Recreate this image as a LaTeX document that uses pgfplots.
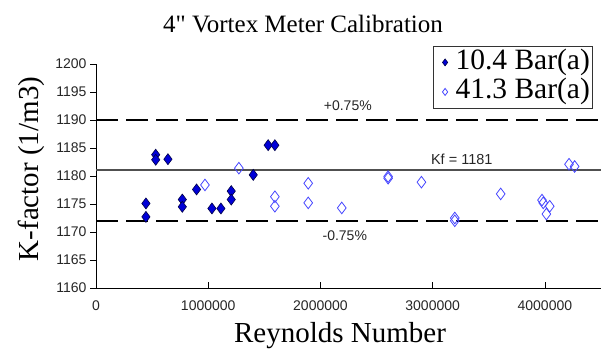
\documentclass[border=0pt]{standalone}
\usepackage{fontspec}
\setmainfont{Liberation Serif}
\newfontfamily\arial{Liberation Sans}
\usepackage{pgfplots}
\pgfplotsset{compat=1.18}
\definecolor{fillblue}{RGB}{0,0,215}
\definecolor{edgeblue}{RGB}{0,0,70}
\definecolor{openblue}{RGB}{70,70,255}
\definecolor{kfgray}{RGB}{80,80,80}
\begin{document}
\begin{tikzpicture}[x=1bp,y=1bp]
\useasboundingbox (0,0) rectangle (602,349);
\begin{axis}[
  at={(96bp,61bp)}, anchor=south west,
  scale only axis, width=505bp, height=224bp,
  xmin=0, xmax=4500000, ymin=1160, ymax=1200,
  axis x line=bottom, axis y line=left,
  axis line style={-, black, line width=1bp},
  xtick={0,1000000,2000000,3000000,4000000},
  ytick={1160,1165,1170,1175,1180,1185,1190,1195,1200},
  scaled x ticks=false,
  xtick align=inside, ytick align=outside,
  major tick length=6bp,
  tick style={black, line width=0.8bp},
  /pgf/number format/assume math mode=true,
  /pgf/number format/fixed,
  /pgf/number format/1000 sep={},
  xticklabel style={yshift=-9bp},
  tick label style={font=\arial\fontsize{14bp}{16bp}\selectfont, text=black!85},
  clip=false,
  legend style={at={(0.985,1.082)}, anchor=north east, draw=black!80, line width=1bp,
    font=\fontsize{29.5bp}{30bp}\selectfont, inner xsep=2bp, inner ysep=1.5bp, row sep=0bp, column sep=0bp,
    nodes={inner xsep=1bp, inner ysep=0bp, text height=21.5bp, text depth=8bp}},
  legend cell align=left,
  legend image code/.code={\path (-9bp,0) (9bp,0); \draw[mark size=3.5bp,#1] plot coordinates {(0,0)};},
]
\addplot[forget plot, black, line width=1.4bp, dash pattern=on 22bp off 8bp] coordinates {(0,1190) (4500000,1190)};
\addplot[forget plot, kfgray, line width=2bp] coordinates {(0,1181) (4500000,1181)};
\addplot[forget plot, black, line width=1.4bp, dash pattern=on 22bp off 8bp] coordinates {(0,1172) (4500000,1172)};
\addplot[only marks, mark=diamond*, mark size=5.5bp, mark options={fill=fillblue, draw=edgeblue, line width=0.6bp}] coordinates {
(445000,1175.1)
(445000,1172.7)
(532000,1183.8)
(532000,1182.9)
(641000,1183.0)
(769000,1175.8)
(769000,1174.5)
(896000,1177.6)
(1033000,1174.2)
(1113000,1174.2)
(1205000,1177.3)
(1205000,1175.8)
(1401000,1180.2)
(1534000,1185.5)
(1594000,1185.5)
};
\addlegendentry{10.4 Bar(a)}
\addplot[only marks, mark=diamond, mark size=5.8bp, mark options={draw=openblue, line width=0.8bp}] coordinates {
(971000,1178.4)
(1273000,1181.4)
(1594000,1176.3)
(1594000,1174.6)
(1891000,1178.7)
(1891000,1175.2)
(2190000,1174.3)
(2603000,1179.9)
(2603000,1179.6)
(2900000,1178.9)
(3197000,1172.5)
(3197000,1172.0)
(3606000,1176.8)
(3974000,1175.7)
(3985000,1175.2)
(4043000,1174.6)
(4013000,1173.2)
(4215000,1182.1)
(4265000,1181.7)
};
\addlegendentry{41.3 Bar(a)}
\node[font=\arial\fontsize{14bp}{16bp}\selectfont, text=black!85] at (axis cs:2244000,1192.5) {+0.75\%};
\node[font=\arial\fontsize{14.5bp}{16bp}\selectfont, text=black!85] at (axis cs:3259000,1183.0) {Kf = 1181};
\node[font=\arial\fontsize{14bp}{16bp}\selectfont, text=black!85] at (axis cs:2217000,1169.3) {-0.75\%};
\end{axis}
\node[anchor=base, font=\fontsize{25bp}{28bp}\selectfont] at (303,317) {4\textquotedbl{} Vortex Meter Calibration};
\node[anchor=base, font=\fontsize{29bp}{32bp}\selectfont] at (340,6.5) {Reynolds Number};
\node[anchor=base, rotate=90, font=\fontsize{29bp}{32bp}\selectfont] at (38,180) {K-factor (1/m3)};
\end{tikzpicture}
\end{document}
